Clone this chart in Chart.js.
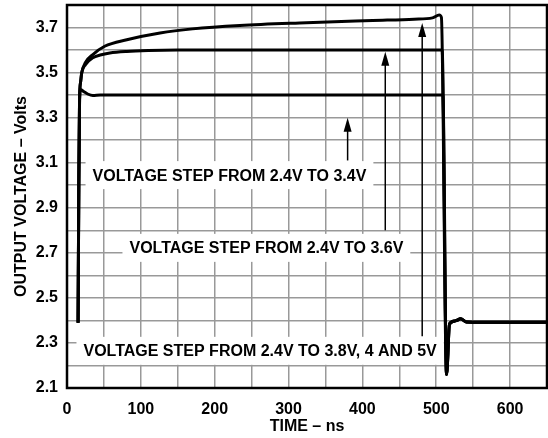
<!DOCTYPE html>
<html>
<head>
<meta charset="utf-8">
<script src="https://cdn.jsdelivr.net/npm/chart.js@4.4.0/dist/chart.umd.min.js"></script>
<style>
  html, body { margin: 0; padding: 0; background: #fff; }
</style>
</head>
<body>
<canvas id="stepChart" width="548" height="438"></canvas>
<script>
// Output response to voltage steps (time in ns, output in volts)
const riseTime = [15, 16, 17];
const riseVolts = [2.39, 3.0, 3.38];

const fallTime = [514, 518, 526, 533, 541, 560, 650];
const fallVolts = [2.16, 2.385, 2.398, 2.407, 2.393, 2.392, 2.392];

const t34 = [18.5, 23, 28, 35, 45, 509];
const v34 = [3.425, 3.415, 3.405, 3.398, 3.4, 3.4];

const t36 = [18.5, 20, 25, 35, 45, 58, 81, 110, 150, 200, 508];
const v36 = [3.46, 3.5, 3.535, 3.566, 3.578, 3.587, 3.594, 3.598, 3.6, 3.6, 3.6];

const t38 = [18.5, 20, 25, 35, 51, 81, 126, 170, 234, 324, 414, 470, 495, 504, 507];
const v38 = [3.46, 3.5, 3.545, 3.58, 3.617, 3.646, 3.676, 3.694, 3.709, 3.721, 3.731, 3.737, 3.743, 3.756, 3.745];

// Text labels (centre time, centre volts) and arrows (time, tip, base)
const labelText = [
  'VOLTAGE STEP FROM 2.4V TO 3.4V',
  'VOLTAGE STEP FROM 2.4V TO 3.6V',
  'VOLTAGE STEP FROM 2.4V TO 3.8V, 4 AND 5V'
];
const labelTime = [220, 270, 261.5];
const labelVolts = [3.045, 2.722, 2.265];

const arrowTime = [380, 431, 481];
const arrowTip = [3.30, 3.593, 3.72];
const arrowBase = [3.11, 2.80, 2.33];

function trace(t, v) {
  const xs = riseTime.concat(t, fallTime);
  const ys = riseVolts.concat(v, fallVolts);
  return xs.map((x, i) => ({x: x, y: ys[i]}));
}

const font = 'bold 16px "Liberation Sans", Arial, sans-serif';

// Frame, white label boxes and arrows
const decorations = {
  id: 'decorations',
  beforeDatasetsDraw(chart) {
    const {ctx, scales: {x, y}} = chart;
    ctx.save();
    ctx.font = font;
    ctx.textAlign = 'center';
    ctx.textBaseline = 'middle';
    labelText.forEach((txt, i) => {
      const cx = x.getPixelForValue(labelTime[i]);
      const cy = y.getPixelForValue(labelVolts[i]);
      const w = ctx.measureText(txt).width + 14;
      ctx.fillStyle = '#fff';
      ctx.fillRect(cx - w / 2, cy - 14, w, 28);
      ctx.fillStyle = '#000';
      ctx.fillText(txt, cx, cy + 1);
    });

    ctx.strokeStyle = '#000';
    ctx.fillStyle = '#000';
    ctx.lineWidth = 1.5;
    arrowTime.forEach((t, i) => {
      const ax = x.getPixelForValue(t);
      const tip = y.getPixelForValue(arrowTip[i]);
      const base = y.getPixelForValue(arrowBase[i]);
      ctx.beginPath();
      ctx.moveTo(ax, base);
      ctx.lineTo(ax, tip + 10);
      ctx.stroke();
      ctx.beginPath();
      ctx.moveTo(ax, tip);
      ctx.lineTo(ax - 4, tip + 14);
      ctx.lineTo(ax + 4, tip + 14);
      ctx.closePath();
      ctx.fill();
    });
    ctx.restore();
  },
  afterDatasetsDraw(chart) {
    const {ctx, chartArea: a} = chart;
    ctx.save();
    ctx.strokeStyle = '#000';
    ctx.lineWidth = 2.5;
    ctx.strokeRect(a.left, a.top, a.right - a.left, a.bottom - a.top);
    ctx.restore();
  }
};

const lineStyle = {
  borderColor: '#000',
  borderWidth: 3,
  pointRadius: 0,
  fill: false,
  cubicInterpolationMode: 'monotone'
};

new Chart(document.getElementById('stepChart'), {
  type: 'line',
  data: {
    datasets: [
      Object.assign({label: '3.4V', data: trace(t34, v34)}, lineStyle),
      Object.assign({label: '3.6V', data: trace(t36, v36)}, lineStyle),
      Object.assign({label: '3.8V', data: trace(t38, v38)}, lineStyle)
    ]
  },
  options: {
    responsive: false,
    devicePixelRatio: 1,
    animation: false,
    layout: {padding: {top: 5, right: 1, left: 0, bottom: 0}},
    plugins: {legend: {display: false}, tooltip: {enabled: false}},
    scales: {
      x: {
        type: 'linear',
        min: 0,
        max: 650,
        afterFit(scale) {
          scale.height = 50;
          scale.paddingLeft = 0;
          scale.paddingRight = 0;
        },
        grid: {color: '#999', lineWidth: 1.5, drawTicks: false},
        border: {display: false},
        ticks: {
          stepSize: 50,
          padding: 12,
          maxRotation: 0,
          autoSkip: false,
          color: '#000',
          font: {family: '"Liberation Sans", Arial', size: 16, weight: 'bold'},
          callback: v => (v % 100 === 0 ? v : '')
        },
        title: {
          display: true,
          text: 'TIME – ns',
          color: '#000',
          padding: {top: 0, bottom: 1.5},
          font: {family: '"Liberation Sans", Arial', size: 16, weight: 'bold'}
        }
      },
      y: {
        min: 2.1,
        max: 3.8,
        afterFit(scale) {
          scale.width = 67;
          scale.paddingTop = 0;
          scale.paddingBottom = 0;
        },
        grid: {color: '#999', lineWidth: 1.5, drawTicks: false},
        border: {display: false},
        ticks: {
          stepSize: 0.1,
          padding: 9,
          autoSkip: false,
          color: '#000',
          font: {family: '"Liberation Sans", Arial', size: 16, weight: 'bold'},
          callback: v => ((Math.round(v * 10) - 21) % 2 === 0 ? v.toFixed(1) : '')
        },
        title: {
          display: true,
          text: 'OUTPUT VOLTAGE – Volts',
          color: '#000',
          padding: {top: 12, bottom: 0},
          font: {family: '"Liberation Sans", Arial', size: 16, weight: 'bold'}
        }
      }
    }
  },
  plugins: [decorations]
});
</script>
</body>
</html>
